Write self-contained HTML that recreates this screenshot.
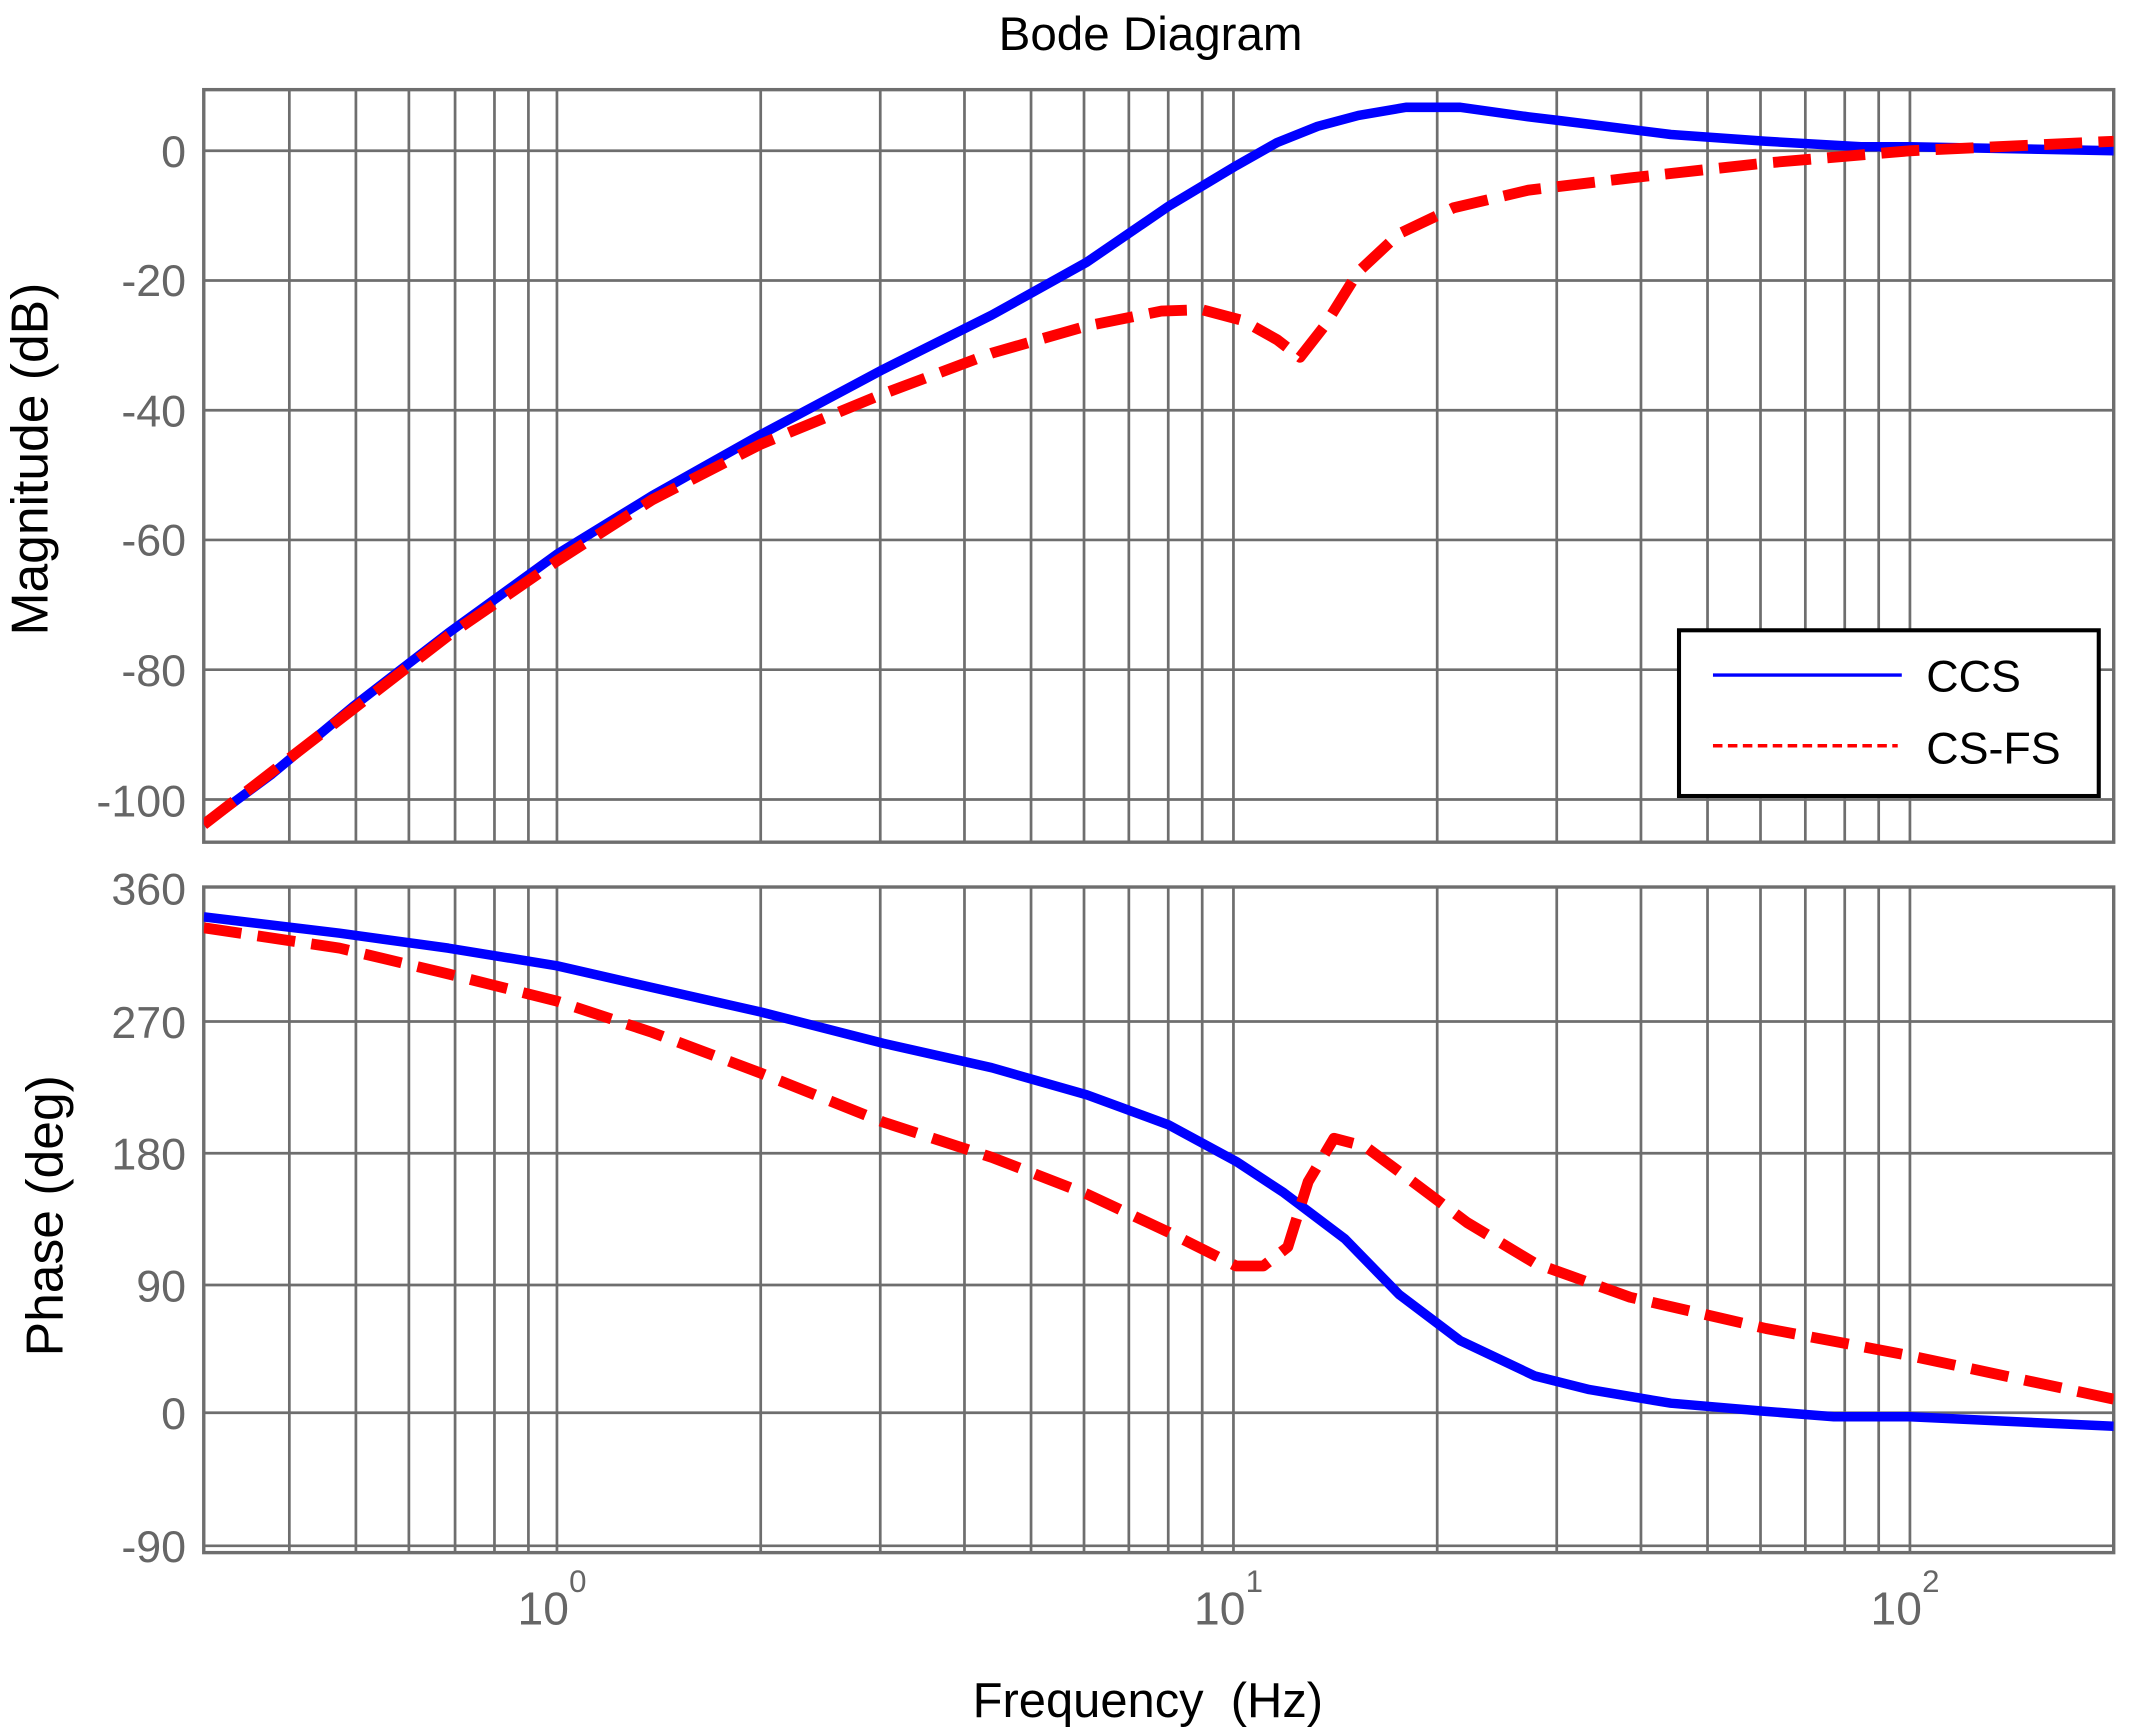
<!DOCTYPE html>
<html><head><meta charset="utf-8"><style>html,body{margin:0;padding:0;background:#fff}svg{display:block}</style></head>
<body>
<svg width="2130" height="1736" viewBox="0 0 1568 1278" preserveAspectRatio="none" xmlns="http://www.w3.org/2000/svg" font-family="Liberation Sans, Arial, sans-serif">
<rect width="1568" height="1278" fill="#fff"/>
<g id="grid" stroke="#6e6e6e" stroke-width="2" fill="none">
<path d="
M213,66V620 M262,66V620 M301,66V620 M335,66V620 M364,66V620 M389,66V620 M410,66V620
M560,66V620 M648,66V620 M710,66V620 M759,66V620 M798,66V620 M831,66V620 M860,66V620 M885,66V620 M908,66V620
M1058,66V620 M1146,66V620 M1208,66V620 M1257,66V620 M1296,66V620 M1329,66V620 M1358,66V620 M1383,66V620 M1406,66V620
M213,653V1143 M262,653V1143 M301,653V1143 M335,653V1143 M364,653V1143 M389,653V1143 M410,653V1143
M560,653V1143 M648,653V1143 M710,653V1143 M759,653V1143 M798,653V1143 M831,653V1143 M860,653V1143 M885,653V1143 M908,653V1143
M1058,653V1143 M1146,653V1143 M1208,653V1143 M1257,653V1143 M1296,653V1143 M1329,653V1143 M1358,653V1143 M1383,653V1143 M1406,653V1143
M150,111H1556 M150,206.5H1556 M150,302H1556 M150,397.5H1556 M150,493H1556 M150,588.6H1556
M150,752H1556 M150,849H1556 M150,946H1556 M150,1040H1556 M150,1138H1556"/>
<rect x="150" y="66" width="1406" height="554" stroke-width="2.5"/>
<rect x="150" y="653" width="1406" height="490" stroke-width="2.5"/>
</g>
<g fill="#666" font-size="33" text-anchor="end">
<text x="137" y="123">0</text><text x="137" y="218">-20</text><text x="137" y="314">-40</text>
<text x="137" y="409">-60</text><text x="137" y="505">-80</text><text x="137" y="601">-100</text>
<text x="137" y="666">360</text><text x="137" y="764">270</text><text x="137" y="861">180</text>
<text x="137" y="958">90</text><text x="137" y="1052">0</text><text x="137" y="1150">-90</text>
</g>
<g fill="#666" font-size="34">
<text x="381" y="1196">10</text><text x="419" y="1172" font-size="23">0</text>
<text x="879" y="1196">10</text><text x="917" y="1172" font-size="23">1</text>
<text x="1377" y="1196">10</text><text x="1415" y="1172" font-size="23">2</text>
</g>
<text x="847" y="37" font-size="35" text-anchor="middle" fill="#000">Bode Diagram</text>
<text x="845" y="1264" font-size="36" text-anchor="middle" fill="#000" xml:space="preserve">Frequency  (Hz)</text>
<text transform="translate(35,338) rotate(-90)" font-size="38" text-anchor="middle" fill="#000">Magnitude (dB)</text>
<text transform="translate(46,895) rotate(-90)" font-size="38" text-anchor="middle" fill="#000">Phase (deg)</text>
<defs><clipPath id="c1"><rect x="150" y="66" width="1406" height="554"/></clipPath><clipPath id="c2"><rect x="150" y="653" width="1406" height="490"/></clipPath></defs>
<g fill="none" stroke-linejoin="round" clip-path="url(#c1)">
<polyline stroke="#0000ff" stroke-width="7" points="150,607 200,570 260,520 330,466 410,408 480,365 560,320 650,272 730,232 800,193 860,152 910,122 940,105 970,93 1000,85 1035,79 1075,79 1125,86 1150,89 1230,99 1300,104 1370,108 1406,108 1556,111"/>
<polyline stroke="#ff0000" stroke-width="8" stroke-dasharray="28,12" points="150,607 260,522 330,468 410,413 480,368 560,327 650,290 730,260 800,240 855,229 885,228 915,236 940,250 957,263 975,240 1000,200 1030,172 1070,153 1125,140 1200,131 1300,120 1406,111 1556,104"/>
</g>
<g fill="none" stroke-linejoin="round" clip-path="url(#c2)">
<polyline stroke="#0000ff" stroke-width="7" points="150,675 250,687 330,698 410,711 480,727 560,745 650,768 730,786 800,806 860,828 910,855 945,878 990,912 1030,953 1075,987 1130,1013 1170,1023 1230,1033 1300,1039 1350,1043 1406,1043 1556,1050"/>
<polyline stroke="#ff0000" stroke-width="8" stroke-dasharray="28,12" points="150,683 250,698 330,717 410,737 480,760 560,790 650,826 730,852 800,879 860,907 910,932 930,932 948,918 963,870 982,838 1005,844 1040,870 1080,900 1130,930 1200,955 1300,978 1406,998 1556,1030"/>
</g>
<rect x="1236" y="464" width="309" height="122" fill="#fff" stroke="#000" stroke-width="3"/>
<line x1="1261" y1="497" x2="1400" y2="497" stroke="#0000ff" stroke-width="2.5"/>
<line x1="1261" y1="549" x2="1397" y2="549" stroke="#ff0000" stroke-width="2.5" stroke-dasharray="7,4"/>
<text x="1418" y="509" font-size="33" fill="#000">CCS</text>
<text x="1418" y="562" font-size="33" fill="#000">CS-FS</text>
</svg>
</body></html>
